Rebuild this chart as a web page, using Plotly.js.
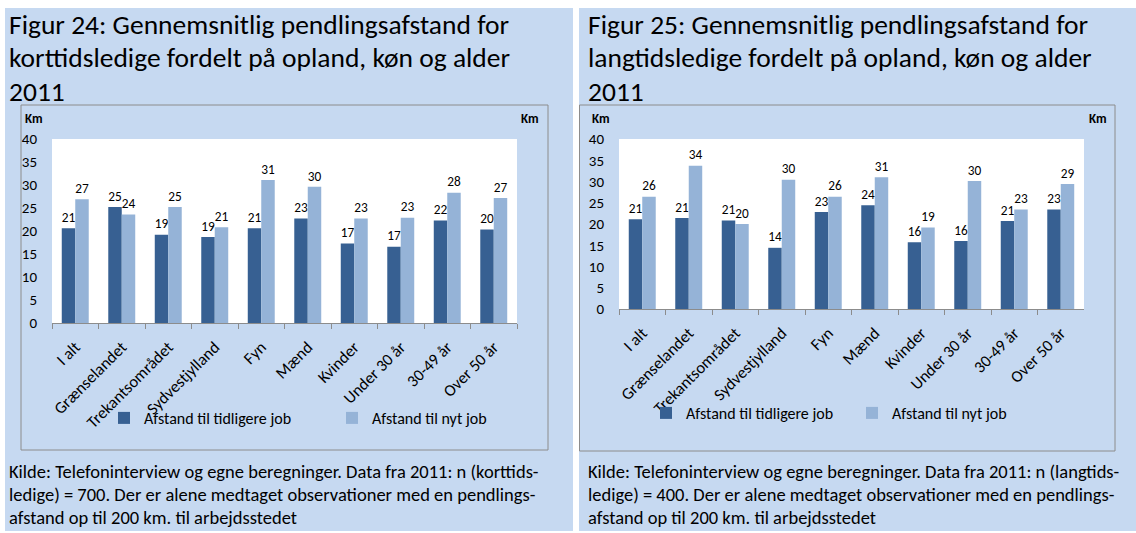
<!DOCTYPE html>
<html>
<head>
<meta charset="utf-8">
<script src="https://cdn.plot.ly/plotly-3.0.1.min.js"></script>
<style>html,body{margin:0;padding:0;background:#fff;}#chart{width:1136px;height:533px;}</style>
</head>
<body>
<div id="chart"></div>
<script>
// ---- data ----
var categories = ["I alt", "Grænselandet", "Trekantsområdet", "Sydvestjylland", "Fyn", "Mænd", "Kvinder", "Under 30 år", "30-49 år", "Over 50 år"];
var seriesNames = ["Afstand til tidligere job", "Afstand til nyt job"];
// Figur 24: korttidsledige
var shortPrevJob = [20.6, 25.2, 19.2, 18.7, 20.6, 22.7, 17.3, 16.6, 22.3, 20.3];
var shortNewJob  = [26.9, 23.6, 25.2, 20.8, 31.1, 29.6, 22.7, 22.9, 28.3, 27.2];
// Figur 25: langtidsledige
var longPrevJob = [21.1, 21.4, 20.8, 14.4, 22.8, 24.4, 15.7, 16.0, 20.7, 23.4];
var longNewJob  = [26.4, 33.7, 20.0, 30.4, 26.4, 31.0, 19.2, 30.1, 23.4, 29.4];
var yTicks = [0, 5, 10, 15, 20, 25, 30, 35, 40];
var titles = [
  ["Figur 24: Gennemsnitlig pendlingsafstand for", "korttidsledige fordelt på opland, køn og alder", "2011"],
  ["Figur 25: Gennemsnitlig pendlingsafstand for", "langtidsledige fordelt på opland, køn og alder", "2011"]
];
var notes = [
  ["Kilde: Telefoninterview og egne beregninger. Data fra 2011: n (korttids-", "ledige) = 700. Der er alene medtaget observationer med en pendlings-", "afstand op til 200 km. til arbejdsstedet"],
  ["Kilde: Telefoninterview og egne beregninger. Data fra 2011: n (langtids-", "ledige) = 400. Der er alene medtaget observationer med en pendlings-", "afstand op til 200 km. til arbejdsstedet"]
];

// ---- style ----
var W = 1136, H = 533;
var FONT = "Carlito, Calibri, 'Liberation Sans', sans-serif";
var DARK = "#376092", LIGHT = "#95B3D7", PANEL = "#C6D9F1", FRAME = "#8c8c8c";
function px(x){ return x / W; }
function py(y){ return 1 - y / H; }

function barTrace(y, name, color, xa, ya, leg){
  return {type: "bar", x: categories, y: y, name: name, xaxis: xa, yaxis: ya, legend: leg,
    marker: {color: color}, texttemplate: "%{y:.0f}", textposition: "outside",
    textfont: {family: FONT, size: 16, color: "#000"}, cliponaxis: false,
    showlegend: true, hoverinfo: "x+y"};
}
var data = [
  barTrace(shortPrevJob, seriesNames[0], DARK, "x", "y", "legend"),
  barTrace(shortNewJob, seriesNames[1], LIGHT, "x", "y", "legend"),
  barTrace(longPrevJob, seriesNames[0], DARK, "x2", "y3", "legend2"),
  barTrace(longNewJob, seriesNames[1], LIGHT, "x2", "y3", "legend2")
];

function xAxis(d0, d1, anchor){
  return {domain: [px(d0), px(d1)], anchor: anchor, type: "category", showgrid: false,
    showline: true, linecolor: FRAME, linewidth: 1, ticks: "outside", tickson: "boundaries",
    ticklen: 5, tickcolor: FRAME, tickangle: -45, ticklabelstandoff: 7,
    tickfont: {family: FONT, size: 16.5, color: "#000"}, fixedrange: true};
}
function yAxis(top, bottom, side, anchor, overlay){
  var a = {domain: [py(bottom), py(top)], anchor: anchor, side: side, range: [0, 40],
    tickvals: yTicks, showgrid: false, zeroline: false, showline: false, ticks: "",
    ticklabelstandoff: 14, tickfont: {family: FONT, size: 15, color: "#000"}, fixedrange: true};
  if (overlay) a.overlaying = overlay;
  return a;
}

var shapes = [
  {type: "rect", xref: "paper", yref: "paper", x0: px(5), x1: px(573), y0: py(531), y1: py(8), fillcolor: PANEL, line: {width: 0}, layer: "below"},
  {type: "rect", xref: "paper", yref: "paper", x0: px(579), x1: px(1136), y0: py(531), y1: py(8), fillcolor: PANEL, line: {width: 0}, layer: "below"},
  {type: "rect", xref: "x domain", yref: "y domain", x0: 0, x1: 1, y0: 0, y1: 1, fillcolor: "#fff", line: {width: 0}, layer: "below"},
  {type: "rect", xref: "x2 domain", yref: "y3 domain", x0: 0, x1: 1, y0: 0, y1: 1, fillcolor: "#fff", line: {width: 0}, layer: "below"},
  {type: "rect", xref: "paper", yref: "paper", x0: px(21), x1: px(548), y0: py(450), y1: py(105), fillcolor: "rgba(0,0,0,0)", line: {color: FRAME, width: 1}, layer: "below"},
  {type: "rect", xref: "paper", yref: "paper", x0: px(579.5), x1: px(1115), y0: py(451), y1: py(105), fillcolor: "rgba(0,0,0,0)", line: {color: FRAME, width: 1}, layer: "below"}
];

var annotations = [];
var panelX = [7, 586];
var titleY = [25, 58, 91];
var noteY = [471, 494, 517];
for (var p = 0; p < 2; p++){
  for (var i = 0; i < 3; i++){
    annotations.push({xref: "paper", yref: "paper", x: px(panelX[p]), y: py(titleY[i]), xanchor: "left", yanchor: "middle",
      text: titles[p][i], showarrow: false, font: {family: FONT, size: 27.5, color: "#000"}});
    annotations.push({xref: "paper", yref: "paper", x: px(panelX[p]), y: py(noteY[i]), xanchor: "left", yanchor: "middle",
      text: notes[p][i], showarrow: false, font: {family: FONT, size: 18.5, color: "#000"}});
  }
}
var kmPos = [[23, "left"], [541, "right"], [590, "left"], [1109, "right"]];
kmPos.forEach(function(k){
  annotations.push({xref: "paper", yref: "paper", x: px(k[0]), y: py(118), xanchor: k[1], yanchor: "middle",
    text: "<b>Km</b>", showarrow: false, font: {family: FONT, size: 13, color: "#000"}});
});

var layout = {
  width: W, height: H, margin: {l: 0, r: 0, t: 0, b: 0},
  paper_bgcolor: "#fff", plot_bgcolor: "rgba(0,0,0,0)",
  barmode: "group", bargap: 0.42, bargroupgap: 0,
  font: {family: FONT, size: 14, color: "#000"},
  xaxis: xAxis(52, 517, "y"),
  yaxis: yAxis(139, 323, "left", "x"),
  yaxis2: yAxis(139, 323, "right", "x", "y"),
  xaxis2: xAxis(619, 1084, "y3"),
  yaxis3: yAxis(139, 309, "left", "x2"),
  yaxis4: yAxis(139, 309, "right", "x2", "y3"),
  legend: {orientation: "h", x: px(104), y: py(418), xanchor: "left", yanchor: "middle",
    bgcolor: "rgba(0,0,0,0)", entrywidth: 183, entrywidthmode: "pixels", font: {family: FONT, size: 16}, traceorder: "normal"},
  legend2: {orientation: "h", x: px(646), y: py(413), xanchor: "left", yanchor: "middle",
    bgcolor: "rgba(0,0,0,0)", entrywidth: 161, entrywidthmode: "pixels", font: {family: FONT, size: 16}, traceorder: "normal"},
  shapes: shapes, annotations: annotations, showlegend: true
};

Plotly.newPlot("chart", data, layout, {displayModeBar: false, staticPlot: true});
</script>
</body>
</html>
